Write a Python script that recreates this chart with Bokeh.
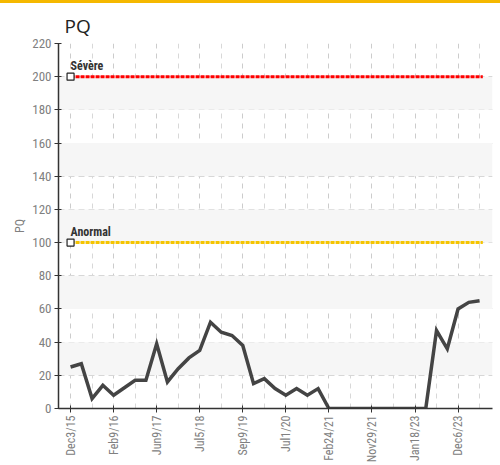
from bokeh.plotting import figure
from bokeh.models import FixedTicker, Label, BoxAnnotation, Div, Range1d
from bokeh.layouts import column
from bokeh.embed import file_html
from bokeh.resources import INLINE

# ---- data ----
idx = list(range(39))
pq_values = [25, 27, 6, 14, 8, 12.5, 17, 17, 39, 16, 24, 30.5, 35, 52, 46, 44, 38,
             15, 18, 12, 8, 12, 8, 12, 0, 0, 0, 0, 0, 0, 0, 0, 0, 0, 47, 36, 60, 64, 65]
tick_positions = [0, 4, 8, 12, 16, 20, 24, 28, 32, 36]
tick_labels = ["Dec3/15", "Feb9/16", "Jun9/17", "Jul5/18", "Sep9/19",
               "Jul1/20", "Feb24/21", "Nov29/21", "Jan18/23", "Dec6/23"]
severe_level = 200
abnormal_level = 100
threshold_names = ["Sévère", "Anormal"]
y_ticks = list(range(0, 221, 20))
bands = [(20, 40), (60, 80), (100, 120), (140, 160), (180, 200)]

NARROW = "Liberation Sans Narrow, Roboto Condensed, Roboto, sans-serif"

p = figure(frame_width=434, frame_height=365, output_backend="svg", toolbar_location=None,
           x_range=Range1d(-1.12, 39.2), y_range=Range1d(0, 220),
           min_border_left=58, min_border_right=8, min_border_top=40, min_border_bottom=50)
p.margin = (0, 0, 0, 0)
p.outline_line_color = None
p.background_fill_color = "white"

p.title.text = "PQ"
p.title.text_font = "Open Sans"
p.title.text_font_size = "19px"
p.title.text_font_style = "normal"
p.title.text_color = "#222222"
p.title.offset = 6
p.title.standoff = 10

for lo, hi in bands:
    p.add_layout(BoxAnnotation(bottom=lo, top=hi, fill_color="#f6f6f6", fill_alpha=1, line_color=None, level="underlay"))

minor_x = [t + 2 for t in tick_positions]
p.xaxis.ticker = FixedTicker(ticks=tick_positions, minor_ticks=minor_x)
p.xaxis.major_label_overrides = {t: l for t, l in zip(tick_positions, tick_labels)}
p.xaxis.major_label_orientation = 1.5708
p.yaxis.ticker = FixedTicker(ticks=y_ticks)
p.yaxis.axis_label = "PQ"

for ax in (p.xaxis[0], p.yaxis[0]):
    ax.axis_line_color = "#333333"
    ax.axis_line_width = 1.5
    ax.major_tick_line_color = "#333333"
    ax.major_tick_in = 3
    ax.major_tick_out = 4
    ax.minor_tick_line_color = None
    ax.major_label_text_font = NARROW
    ax.major_label_text_color = "#808080"
    ax.major_label_standoff = 3
p.yaxis.major_label_text_font_size = "13px"
p.xaxis.major_label_text_font_size = "12px"
p.yaxis.axis_label_text_font = NARROW
p.yaxis.axis_label_text_font_size = "12px"
p.yaxis.axis_label_text_font_style = "normal"
p.yaxis.axis_label_text_color = "#808080"
p.yaxis.axis_label_standoff = 2

p.xgrid.grid_line_color = "#cccccc"
p.xgrid.grid_line_dash = "5 5"
p.xgrid.minor_grid_line_color = "#d8d8d8"
p.xgrid.minor_grid_line_dash = "5 5"
p.ygrid.grid_line_color = "#cccccc"
p.ygrid.grid_line_dash = "6 4"

x0, x1 = idx[0], idx[-1] + 0.3
p.line([x0, x1], [severe_level, severe_level], line_color="#ff0000", line_width=3, line_dash="4 1")
p.line([x0, x1], [abnormal_level, abnormal_level], line_color="#f5c400", line_width=3, line_dash="4 1")
p.scatter([x0, x0], [severe_level, abnormal_level], marker="square", size=7,
          fill_color="white", line_color="#222222", line_width=1.2)

for name, lvl in zip(threshold_names, [severe_level, abnormal_level]):
    p.add_layout(Label(x=x0, y=lvl, text=name, x_offset=0, y_offset=4,
                       text_font=NARROW, text_font_size="12px", text_font_style="bold",
                       text_color="#333333"))

p.line(idx, pq_values, line_color="#444444", line_width=3.5, line_join="miter")

bar = Div(width=500, height=3, margin=(0, 0, 0, 0), styles={"background-color": "#f5b800"})
layout = column(bar, p, spacing=0)

open("out.html", "w").write(file_html(layout, INLINE))
